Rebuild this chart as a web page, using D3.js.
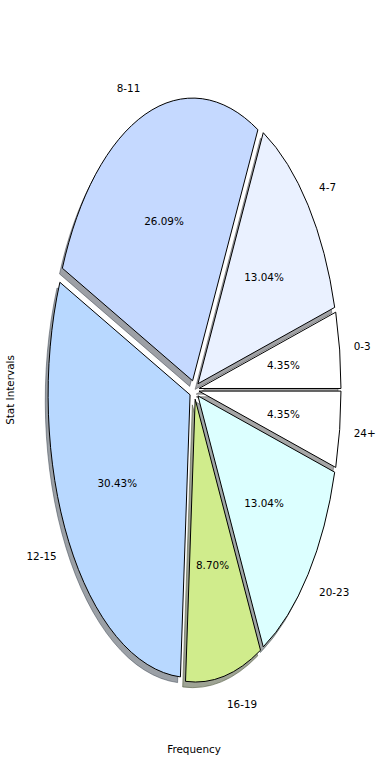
<!DOCTYPE html>
<html><head><meta charset="utf-8">
<script src="https://cdn.jsdelivr.net/npm/d3@7"></script>
<style>body{margin:0;background:#fff}svg{display:block}text{font-family:"DejaVu Sans",sans-serif;font-size:10.4px;fill:#000}</style>
</head><body><svg id="c" width="390" height="780"></svg>
<script>
const categories = ["0-3","4-7","8-11","12-15","16-19","20-23","24+"];
const counts = [1,3,6,7,2,3,1];
const colors = ["#ffffff","#eaf1ff","#c5d9ff","#b8d8ff","#d0ec8c","#dcffff","#ffffff"];
const xLabel = "Frequency", yLabel = "Stat Intervals";
const explode = 0.034;

const W=390,H=780, cx=194.2, cy=389.8, sx=142, sy=282.7;
const svg=d3.select("#c");
const xs=d3.scaleLinear().domain([-1,1]).range([cx-sx,cx+sx]);
const ys=d3.scaleLinear().domain([-1,1]).range([cy-sy,cy+sy]);
const pie=d3.pie().sort(null).startAngle(Math.PI/2).endAngle(Math.PI/2-2*Math.PI);
const arcs=pie(counts);
const arc=d3.arc().innerRadius(0).outerRadius(1);
const total=d3.sum(counts);
function mid(d){return (d.startAngle+d.endAngle)/2;}
function off(d,r){const m=mid(d);return [r*Math.sin(m),-r*Math.cos(m)];}
function shadeCol(c){const r=d3.rgb(c);return d3.rgb(r.r*0.3,r.g*0.3,r.b*0.3).toString();}

const gs=svg.append("g");
arcs.forEach((d,i)=>{
  const [ox,oy]=off(d,explode);
  gs.append("path").attr("d",arc(d))
    .attr("transform",`translate(${xs(ox)-0.02*sx},${ys(oy)+0.02*sy}) scale(${sx},${sy})`)
    .attr("fill",shadeCol(colors[i])).attr("fill-opacity",0.5)
    .attr("stroke",shadeCol(colors[i])).attr("stroke-opacity",0.5).attr("stroke-width",1)
    .attr("vector-effect","non-scaling-stroke");
});
const gw=svg.append("g");
arcs.forEach((d,i)=>{
  const [ox,oy]=off(d,explode);
  gw.append("path").attr("d",arc(d))
    .attr("transform",`translate(${xs(ox)},${ys(oy)}) scale(${sx},${sy})`)
    .attr("fill",colors[i]).attr("stroke","#000").attr("stroke-width",1)
    .attr("stroke-linejoin","round")
    .attr("vector-effect","non-scaling-stroke");
});
const gt=svg.append("g");
arcs.forEach((d,i)=>{
  const [lx,ly]=off(d,explode+1.1);
  gt.append("text").attr("x",xs(lx)).attr("y",ys(ly))
    .attr("text-anchor",lx>0?"start":"end").attr("dominant-baseline","central")
    .text(categories[i]);
  const [px,py]=off(d,explode+0.6);
  gt.append("text").attr("x",xs(px)).attr("y",ys(py))
    .attr("text-anchor","middle").attr("dominant-baseline","central")
    .text((counts[i]/total*100).toFixed(2)+"%");
});
svg.append("text").attr("x",194).attr("y",749).attr("text-anchor","middle").attr("dominant-baseline","central").text(xLabel);
svg.append("text").attr("transform","translate(10,390) rotate(-90)").attr("text-anchor","middle").attr("dominant-baseline","central").text(yLabel);
</script></body></html>
